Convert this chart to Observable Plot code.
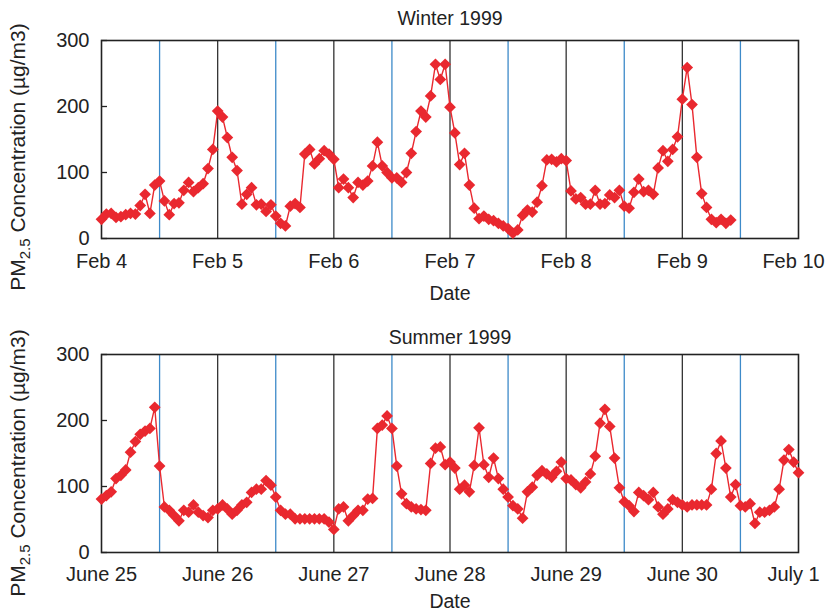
<!DOCTYPE html>
<html>
<head>
<meta charset="utf-8">
<script src="https://cdn.jsdelivr.net/npm/d3@7"></script>
<script src="https://cdn.jsdelivr.net/npm/@observablehq/plot@0.6"></script>
<style>
  body { margin: 0; background: #fff; }
  svg { display: block; }
</style>
</head>
<body>
<div id="chart"></div>
<script>
// Hourly PM2.5 concentrations (µg/m3); index = hours since midnight of the first day.
const winterTitle = "Winter 1999";
const summerTitle = "Summer 1999";
const xTitle = "Date";
const winterTicks = ["Feb 4", "Feb 5", "Feb 6", "Feb 7", "Feb 8", "Feb 9", "Feb 10"];
const summerTicks = ["June 25", "June 26", "June 27", "June 28", "June 29", "June 30", "July 1"];
const yTicks = [0, 100, 200, 300];

const winterPM25 = [
  29, 37, 38, 32, 33, 36, 38, 37, 50, 67, 38, 81,
  87, 57, 36, 53, 54, 73, 85, 71, 77, 83, 106, 135,
  193, 184, 153, 123, 103, 52, 67, 77, 51, 52, 41, 51,
  34, 23, 19, 49, 53, 47, 128, 135, 113, 121, 133, 128,
  120, 77, 90, 77, 62, 85, 81, 87, 110, 146, 110, 100,
  92, 92, 85, 100, 129, 162, 193, 184, 216, 264, 241, 264,
  199, 160, 112, 129, 81, 46, 30, 34, 29, 27, 23, 19,
  15, 8, 13, 35, 43, 40, 55, 80, 119, 120, 116, 121,
  118, 72, 60, 62, 52, 52, 73, 52, 53, 66, 62, 73,
  49, 46, 70, 90, 71, 73, 67, 107, 133, 117, 135, 154,
  211, 259, 203, 123, 68, 47, 29, 24, 29, 23, 28
];

const summerPM25 = [
  81, 86, 92, 112, 117, 125, 152, 168, 179, 184, 188, 220,
  131, 69, 64, 56, 48, 64, 61, 72, 61, 56, 53, 64,
  66, 72, 66, 58, 64, 72, 76, 91, 96, 96, 109, 102,
  84, 64, 58, 58, 51, 51, 51, 51, 51, 51, 51, 46,
  35, 66, 69, 48, 56, 64, 64, 81, 82, 188, 193, 207,
  188, 131, 89, 74, 69, 66, 65, 64, 135, 158, 160, 133,
  137, 128, 96, 102, 92, 132, 189, 133, 114, 143, 112, 96,
  84, 71, 66, 52, 92, 99, 117, 124, 119, 114, 123, 137,
  112, 110, 103, 98, 107, 119, 146, 196, 217, 191, 143, 98,
  77, 71, 62, 91, 86, 80, 91, 69, 58, 66, 80, 76,
  72, 69, 72, 72, 72, 72, 96, 150, 169, 128, 84, 103,
  71, 69, 74, 44, 61, 61, 64, 69, 96, 140, 156, 137, 121
];

// Day boundaries (black) and noons (blue), in days from the first midnight.
const midnights = [1, 2, 3, 4, 5];
const noons = [0.5, 1.5, 2.5, 3.5, 4.5, 5.5];

const FONT = '"Liberation Sans", Arial, Helvetica, sans-serif';
const INK = "#222";
const RED = "#e9282f";
const BLUE = "#3d8ac9";

function panel({title, tickLabels, values, height, marginTop, marginBottom, titleDy, dateDy, tickPad, labelY}) {
  const rows = values.map((pm, i) => ({day: i / 24, pm}));
  const tickDays = tickLabels.map((_, i) => i);
  const lastDay = tickDays[tickDays.length - 1];
  const axisOpts = {tickFormat: (d) => tickLabels[d], tickSize: 0, tickPadding: tickPad, label: null, fontSize: 20};
  const svg = Plot.plot({
    width: 828,
    height,
    marginTop,
    marginBottom,
    marginLeft: 101,
    marginRight: 30,
    style: {fontFamily: FONT, fontSize: "20px", color: INK, background: "#fff", overflow: "visible"},
    x: {domain: [0, 6]},
    y: {domain: [0, 300]},
    marks: [
      Plot.ruleX(noons, {stroke: BLUE, strokeWidth: 1.3}),
      Plot.ruleX(midnights, {stroke: "#333", strokeWidth: 1.3}),
      Plot.frame({stroke: INK, strokeWidth: 1.6}),
      Plot.axisX({...axisOpts, ticks: tickDays.slice(0, -1)}),
      // the last date label is nudged inward so it stays inside the page
      Plot.axisX({...axisOpts, ticks: [lastDay], dx: -5}),
      Plot.axisY({ticks: yTicks, tickSize: 0, tickPadding: 12, label: null, fontSize: 20}),
      Plot.axisY({ticks: yTicks, tickSize: 6, dx: 6, tickFormat: () => "", label: null, stroke: INK, strokeWidth: 1.3}),
      Plot.text([title], {text: (d) => d, frameAnchor: "top", dy: titleDy, fontSize: 19.5, lineAnchor: "middle", fill: INK}),
      Plot.text([xTitle], {text: (d) => d, frameAnchor: "bottom", dy: dateDy, fontSize: 19.5, lineAnchor: "middle", fill: INK}),
      Plot.line(rows, {x: "day", y: "pm", stroke: RED, strokeWidth: 1.4}),
      Plot.dot(rows, {x: "day", y: "pm", symbol: "diamond2", r: 5.3, fill: RED, stroke: "none"})
    ]
  });

  // Vertical y-axis title with subscripted "2.5"
  const t = d3.select(svg).append("text")
    .attr("transform", `translate(25,${labelY}) rotate(-90)`)
    .attr("text-anchor", "middle")
    .attr("font-family", FONT)
    .attr("font-size", 21)
    .attr("fill", INK);
  t.append("tspan").text("PM");
  t.append("tspan").attr("font-size", 15).attr("dy", 5).text("2.5");
  t.append("tspan").attr("dy", -5).text(" Concentration (µg/m3)");
  return svg;
}

const root = document.getElementById("chart");
root.append(panel({
  title: winterTitle, tickLabels: winterTicks, values: winterPM25,
  height: 305, marginTop: 40, marginBottom: 67, titleDy: -22, dateDy: 55, tickPad: 15, labelY: 157
}));
root.append(panel({
  title: summerTitle, tickLabels: summerTicks, values: summerPM25,
  height: 306, marginTop: 49, marginBottom: 59, titleDy: -17, dateDy: 49, tickPad: 14, labelY: 158
}));
</script>
</body>
</html>
